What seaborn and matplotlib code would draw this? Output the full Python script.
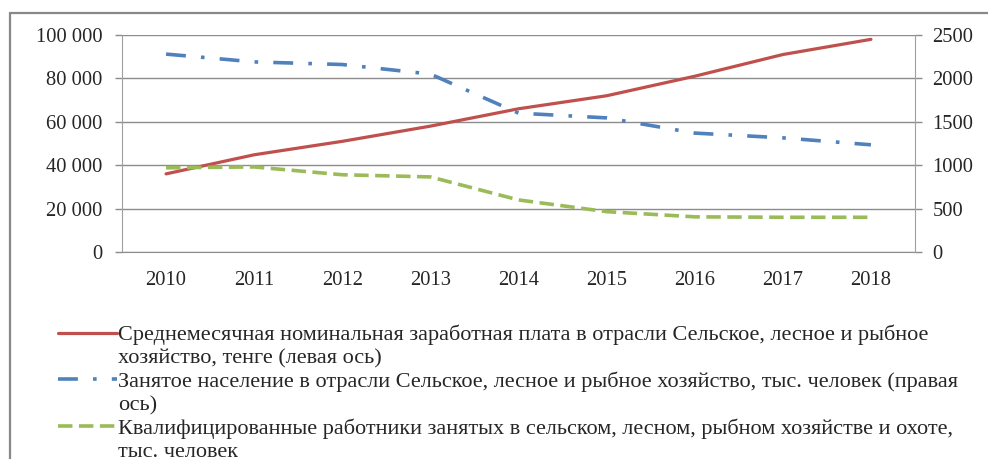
import matplotlib
matplotlib.use("Agg")
import matplotlib.pyplot as plt
import matplotlib.ticker as mticker
from matplotlib.lines import Line2D
import seaborn as sns
import pandas as pd

years = ["2010", "2011", "2012", "2013", "2014", "2015", "2016", "2017", "2018"]
wage = [36000, 44800, 51000, 58000, 66000, 72000, 81000, 91000, 98000]
employed = [2280, 2190, 2160, 2050, 1600, 1545, 1370, 1315, 1235]
qualified = [970, 980, 890, 865, 600, 465, 405, 400, 400]

left_ticks = [0, 20000, 40000, 60000, 80000, 100000]
right_ticks = [0, 500, 1000, 1500, 2000, 2500]

legend_lines = [
    "Среднемесячная номинальная заработная плата в отрасли Сельское, лесное и рыбное",
    "хозяйство, тенге (левая ось)",
    "Занятое население в отрасли Сельское, лесное и рыбное хозяйство, тыс. человек (правая",
    "ось)",
    "Квалифицированные работники занятых в сельском, лесном, рыбном хозяйстве и охоте,",
    "тыс. человек",
]

RED, BLUE, GREEN = "#C0504D", "#4F81BD", "#9BBB59"
GRID = "#8c8c8c"

sns.set_style("white")
plt.rcParams["font.family"] = ["Liberation Serif", "DejaVu Serif"]
plt.rcParams["font.size"] = 14.8

df = pd.DataFrame({"x": list(range(len(years))), "wage": wage,
                   "employed": employed, "qualified": qualified})

fig = plt.figure(figsize=(9.88, 4.59), dpi=100)
ax = fig.add_axes([122 / 988, 1 - 252 / 459, (915 - 122) / 988, (252 - 35) / 459])
ax2 = ax.twinx()

sns.lineplot(data=df, x="x", y="wage", ax=ax, color=RED, lw=2.3, zorder=3)
sns.lineplot(data=df, x="x", y="employed", ax=ax2, color=BLUE, lw=2.6,
             dashes=False, zorder=3)
sns.lineplot(data=df, x="x", y="qualified", ax=ax2, color=GREEN, lw=2.6, zorder=3)
ax2.lines[0].set_dashes((5.5, 4.2, 1.0, 4.2))
ax2.lines[1].set_dashes((4.0, 1.8))

ax.set_xlim(-0.5, len(years) - 0.5)
ax.set_ylim(0, 100000)
ax2.set_ylim(0, 2500)
ax.set_yticks(left_ticks)
ax2.set_yticks(right_ticks)
ax.yaxis.set_major_formatter(mticker.FuncFormatter(lambda v, p: f"{int(v):,}".replace(",", " ")))
ax.set_xticks(range(len(years)))
ax.set_xticklabels(years)
ax.set_xticks([i - 0.5 for i in range(len(years) + 1)], minor=True)
ax.tick_params(axis="x", which="major", length=0, pad=14)
ax.tick_params(axis="x", which="minor", length=5, width=1, color=GRID, direction="out")
ax.tick_params(axis="y", length=5, width=1, color=GRID, direction="out", pad=9, left=True)
ax2.tick_params(axis="y", length=5, width=1, color=GRID, direction="out", pad=7.5, right=True)
for a in (ax, ax2):
    a.set_xlabel("")
    a.set_ylabel("")
ax.grid(axis="y", color=GRID, lw=1)
ax.grid(axis="x", visible=False)
ax2.grid(False)
for a in (ax, ax2):
    for s in a.spines.values():
        s.set_visible(False)
ax.spines["left"].set_visible(True)
ax.spines["left"].set_color("#a0a0a0")
ax.spines["bottom"].set_visible(True)
ax.spines["bottom"].set_color(GRID)
ax2.spines["right"].set_visible(True)
ax2.spines["right"].set_color("#a0a0a0")
ax.set_zorder(ax2.get_zorder() - 1)
ax2.patch.set_visible(False)

blank = Line2D([], [], color="none")
handles = [Line2D([], [], color=RED, lw=2.3), blank,
           Line2D([], [], color=BLUE, lw=2.6, dashes=(5.5, 4.2, 1.0, 4.2)), blank,
           Line2D([], [], color=GREEN, lw=2.6, dashes=(4.0, 1.8)), blank]
fig.legend(handles, legend_lines, loc="upper left",
           bbox_to_anchor=(49 / 988, 1 - 316 / 459), frameon=False,
           handlelength=2.64, handletextpad=0.05, labelspacing=0.125,
           borderaxespad=0, fontsize=16.0)

# outer chart-area border
fig.add_artist(Line2D([10 / 988, 10 / 988], [0, 1 - 13 / 459], color="#888888", lw=1.6))
fig.add_artist(Line2D([10 / 988, 1], [1 - 13 / 459, 1 - 13 / 459], color="#888888", lw=1.6))

fig.savefig("out.png", dpi=100)
